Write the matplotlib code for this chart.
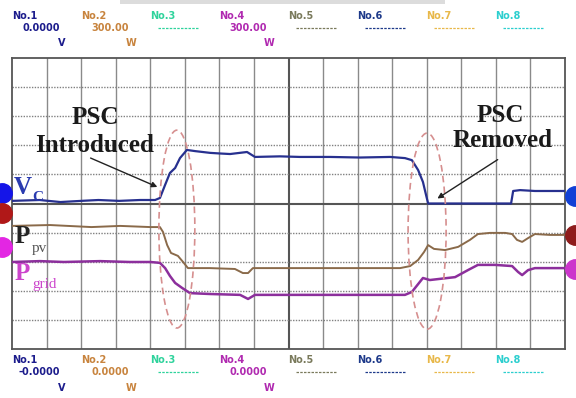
import matplotlib.pyplot as plt
from matplotlib.patches import Ellipse, Rectangle

# screen is 16 x 10 divisions; traces, in divisions
vc_x = [0.0, 0.8, 1.4, 2.0, 2.5, 3.1, 3.7, 4.14, 4.28, 4.43, 4.57, 4.72, 4.86, 5.06,
        5.3, 5.73, 6.0, 6.31, 6.8, 7.03, 7.75, 8.33, 9.2, 10.07, 10.94, 11.37, 11.57,
        11.75, 11.89, 11.98, 12.04, 13.25, 14.44, 14.5, 14.7, 15.13, 16.0]
vc_y = [5.09, 5.12, 5.05, 5.09, 5.12, 5.09, 5.12, 5.12, 5.19, 5.64, 6.05, 6.22, 6.56, 6.84,
        6.8, 6.74, 6.72, 6.7, 6.77, 6.6, 6.62, 6.6, 6.6, 6.58, 6.6, 6.56, 6.49,
        6.15, 5.74, 5.29, 5.0, 5.0, 5.0, 5.43, 5.46, 5.43, 5.43]

ppv_x = [0.0, 1.1, 2.3, 3.13, 4.0, 4.28, 4.37, 4.49, 4.6, 4.8, 4.95, 5.09, 5.73, 6.45,
         6.68, 6.83, 6.97, 8.33, 9.78, 11.23, 11.52, 11.75, 11.92, 12.04, 12.21, 12.53,
         12.91, 13.25, 13.48, 13.83, 14.27, 14.47, 14.61, 14.76, 14.93, 15.13, 15.57, 16.0]
ppv_y = [4.23, 4.26, 4.19, 4.23, 4.19, 4.19, 4.02, 3.57, 3.3, 3.2, 2.99, 2.78, 2.78, 2.75,
         2.61, 2.61, 2.78, 2.78, 2.78, 2.78, 2.85, 3.06, 3.33, 3.57, 3.44, 3.4,
         3.51, 3.75, 3.95, 3.99, 3.99, 3.95, 3.75, 3.68, 3.81, 3.95, 3.92, 3.92]

pgrid_x = [0.0, 0.81, 1.5, 2.55, 3.4, 4.0, 4.28, 4.43, 4.57, 4.72, 4.92, 5.15, 5.73,
           6.6, 6.83, 7.03, 8.33, 9.78, 11.37, 11.57, 11.75, 11.89, 12.09, 12.38, 12.82,
           13.19, 13.48, 13.98, 14.47, 14.64, 14.76, 14.93, 15.13, 16.0]
pgrid_y = [2.99, 3.02, 2.99, 3.02, 2.99, 2.99, 2.96, 2.78, 2.51, 2.27, 2.1, 1.92, 1.89,
           1.86, 1.72, 1.86, 1.86, 1.86, 1.86, 1.96, 2.23, 2.44, 2.37, 2.41, 2.47,
           2.71, 2.89, 2.89, 2.85, 2.65, 2.54, 2.71, 2.78, 2.78]

# channel position markers at the screen edges
left_marks_y = [5.36, 4.67, 3.51]
right_marks_y = [5.26, 3.92, 2.75]
left_marks_c = ["#1515e8", "#b01818", "#e326e3"]
right_marks_c = ["#1140d6", "#8e1c1c", "#cc35cc"]

channels = ["No.1", "No.2", "No.3", "No.4", "No.5", "No.6", "No.7", "No.8"]
ch_colors = ["#1c1c8c", "#c8843e", "#2fd39c", "#b02ab0",
             "#7a7a5c", "#1e3a8a", "#e8b84a", "#2ccfcf"]
top_values = ["0.0000", "300.00", None, "300.00", None, None, None, None]
bottom_values = ["-0.0000", "0.0000", None, "0.0000", None, None, None, None]
units = ["V", "W", "", "W", "", "", "", ""]

VC_COLOR = "#27308f"
PPV_COLOR = "#8a6a4a"
PGRID_COLOR = "#8c2f9c"
SERIF = "Liberation Serif"

fig = plt.figure(figsize=(5.76, 3.98), dpi=100)

ov = fig.add_axes([0, 0, 1, 1])
ov.set_xlim(0, 576)
ov.set_ylim(398, 0)
ov.axis("off")
ov.add_patch(Rectangle((120, 0), 325, 4, color="#dcdcdc", lw=0))

for i, (name, col) in enumerate(zip(channels, ch_colors)):
    x0 = 12 + i * 69
    for y_name, values, y_val, y_unit in ((16, top_values, 28, 43),
                                          (360, bottom_values, 372, 388)):
        ov.text(x0, y_name, name, color=col, fontsize=7, fontweight="bold",
                va="center", ha="left")
        if values[i] is None:
            ov.plot([x0 + 8, x0 + 48], [y_val, y_val], color=col, lw=0.9,
                    ls=(0, (2, 1)))
        else:
            ov.text(x0 + 48, y_val, values[i], color=col, fontsize=7,
                    fontweight="bold", va="center", ha="right")
        if units[i]:
            ov.text(x0 + 50, y_unit, units[i], color=col, fontsize=7,
                    fontweight="bold", va="center", ha="center")

ax = fig.add_axes([12 / 576, 49 / 398, 553 / 576, 291 / 398])
ax.set_zorder(2)
ax.set_xlim(0, 16)
ax.set_ylim(0, 10)
ax.set_xticks([])
ax.set_yticks([])
for s in ax.spines.values():
    s.set_color("#555555")
    s.set_linewidth(1.3)

for gx in range(1, 16):
    ax.axvline(gx, color="#8a8a8a" if gx != 8 else "#555555",
               lw=1.0 if gx != 8 else 1.5, zorder=1)
for gy in range(1, 10):
    if gy == 5:
        ax.axhline(gy, color="#555555", lw=1.5, zorder=1)
    else:
        ax.axhline(gy, color="#808080", lw=1.0, ls=(0, (1, 1)), zorder=1)

ax.plot(ppv_x, ppv_y, color=PPV_COLOR, lw=1.4, zorder=3)
ax.plot(pgrid_x, pgrid_y, color=PGRID_COLOR, lw=1.8, zorder=3)
ax.plot(vc_x, vc_y, color=VC_COLOR, lw=1.6, zorder=4)

for cx, cy, w, h in ((4.77, 4.12, 1.04, 6.8), (12.01, 4.05, 1.1, 6.74)):
    ax.add_patch(Ellipse((cx, cy), w, h, fill=False, ec="#d68f8f", lw=1.2,
                         ls=(0, (4, 2.5)), zorder=5))

for x, y, s in ((2.4, 7.97, "PSC"), (2.4, 6.98, "Introduced"),
                (14.12, 8.04, "PSC"), (14.18, 7.15, "Removed")):
    ax.text(x, y, s, fontsize=18, fontweight="bold", family=SERIF,
            ha="center", va="center", color="#1a1a1a", zorder=6)

arrow = dict(arrowstyle="-|>", color="#222222", lw=1.0, mutation_scale=8)
ax.annotate("", xy=(4.28, 5.53), xytext=(2.2, 6.6), arrowprops=arrow, zorder=6)
ax.annotate("", xy=(12.24, 5.12), xytext=(14.12, 6.56), arrowprops=arrow, zorder=6)

ax.text(0.06, 5.55, "V", fontsize=18, fontweight="bold", family=SERIF,
        color="#2a3bb0", ha="left", va="center", zorder=6)
ax.text(0.6, 5.22, "C", fontsize=11, fontweight="bold", family=SERIF,
        color="#2a3bb0", ha="left", va="center", zorder=6)
ax.text(0.08, 3.85, "P", fontsize=18, fontweight="bold", family=SERIF,
        color="#222222", ha="left", va="center", zorder=6)
ax.text(0.58, 3.45, "pv", fontsize=11, family=SERIF,
        color="#555555", ha="left", va="center", zorder=6)
ax.text(0.08, 2.61, "P", fontsize=18, fontweight="bold", family=SERIF,
        color="#cc44cc", ha="left", va="center", zorder=6)
ax.text(0.58, 2.2, "grid", fontsize=11, family=SERIF,
        color="#cc44cc", ha="left", va="center", zorder=6)

for y, c in zip(left_marks_y, left_marks_c):
    ax.plot([-0.29], [y], "o", ms=14, color=c, clip_on=False, zorder=7)
for y, c in zip(right_marks_y, right_marks_c):
    ax.plot([16.29], [y], "o", ms=14, color=c, clip_on=False, zorder=7)

fig.savefig("out.png", dpi=100)
